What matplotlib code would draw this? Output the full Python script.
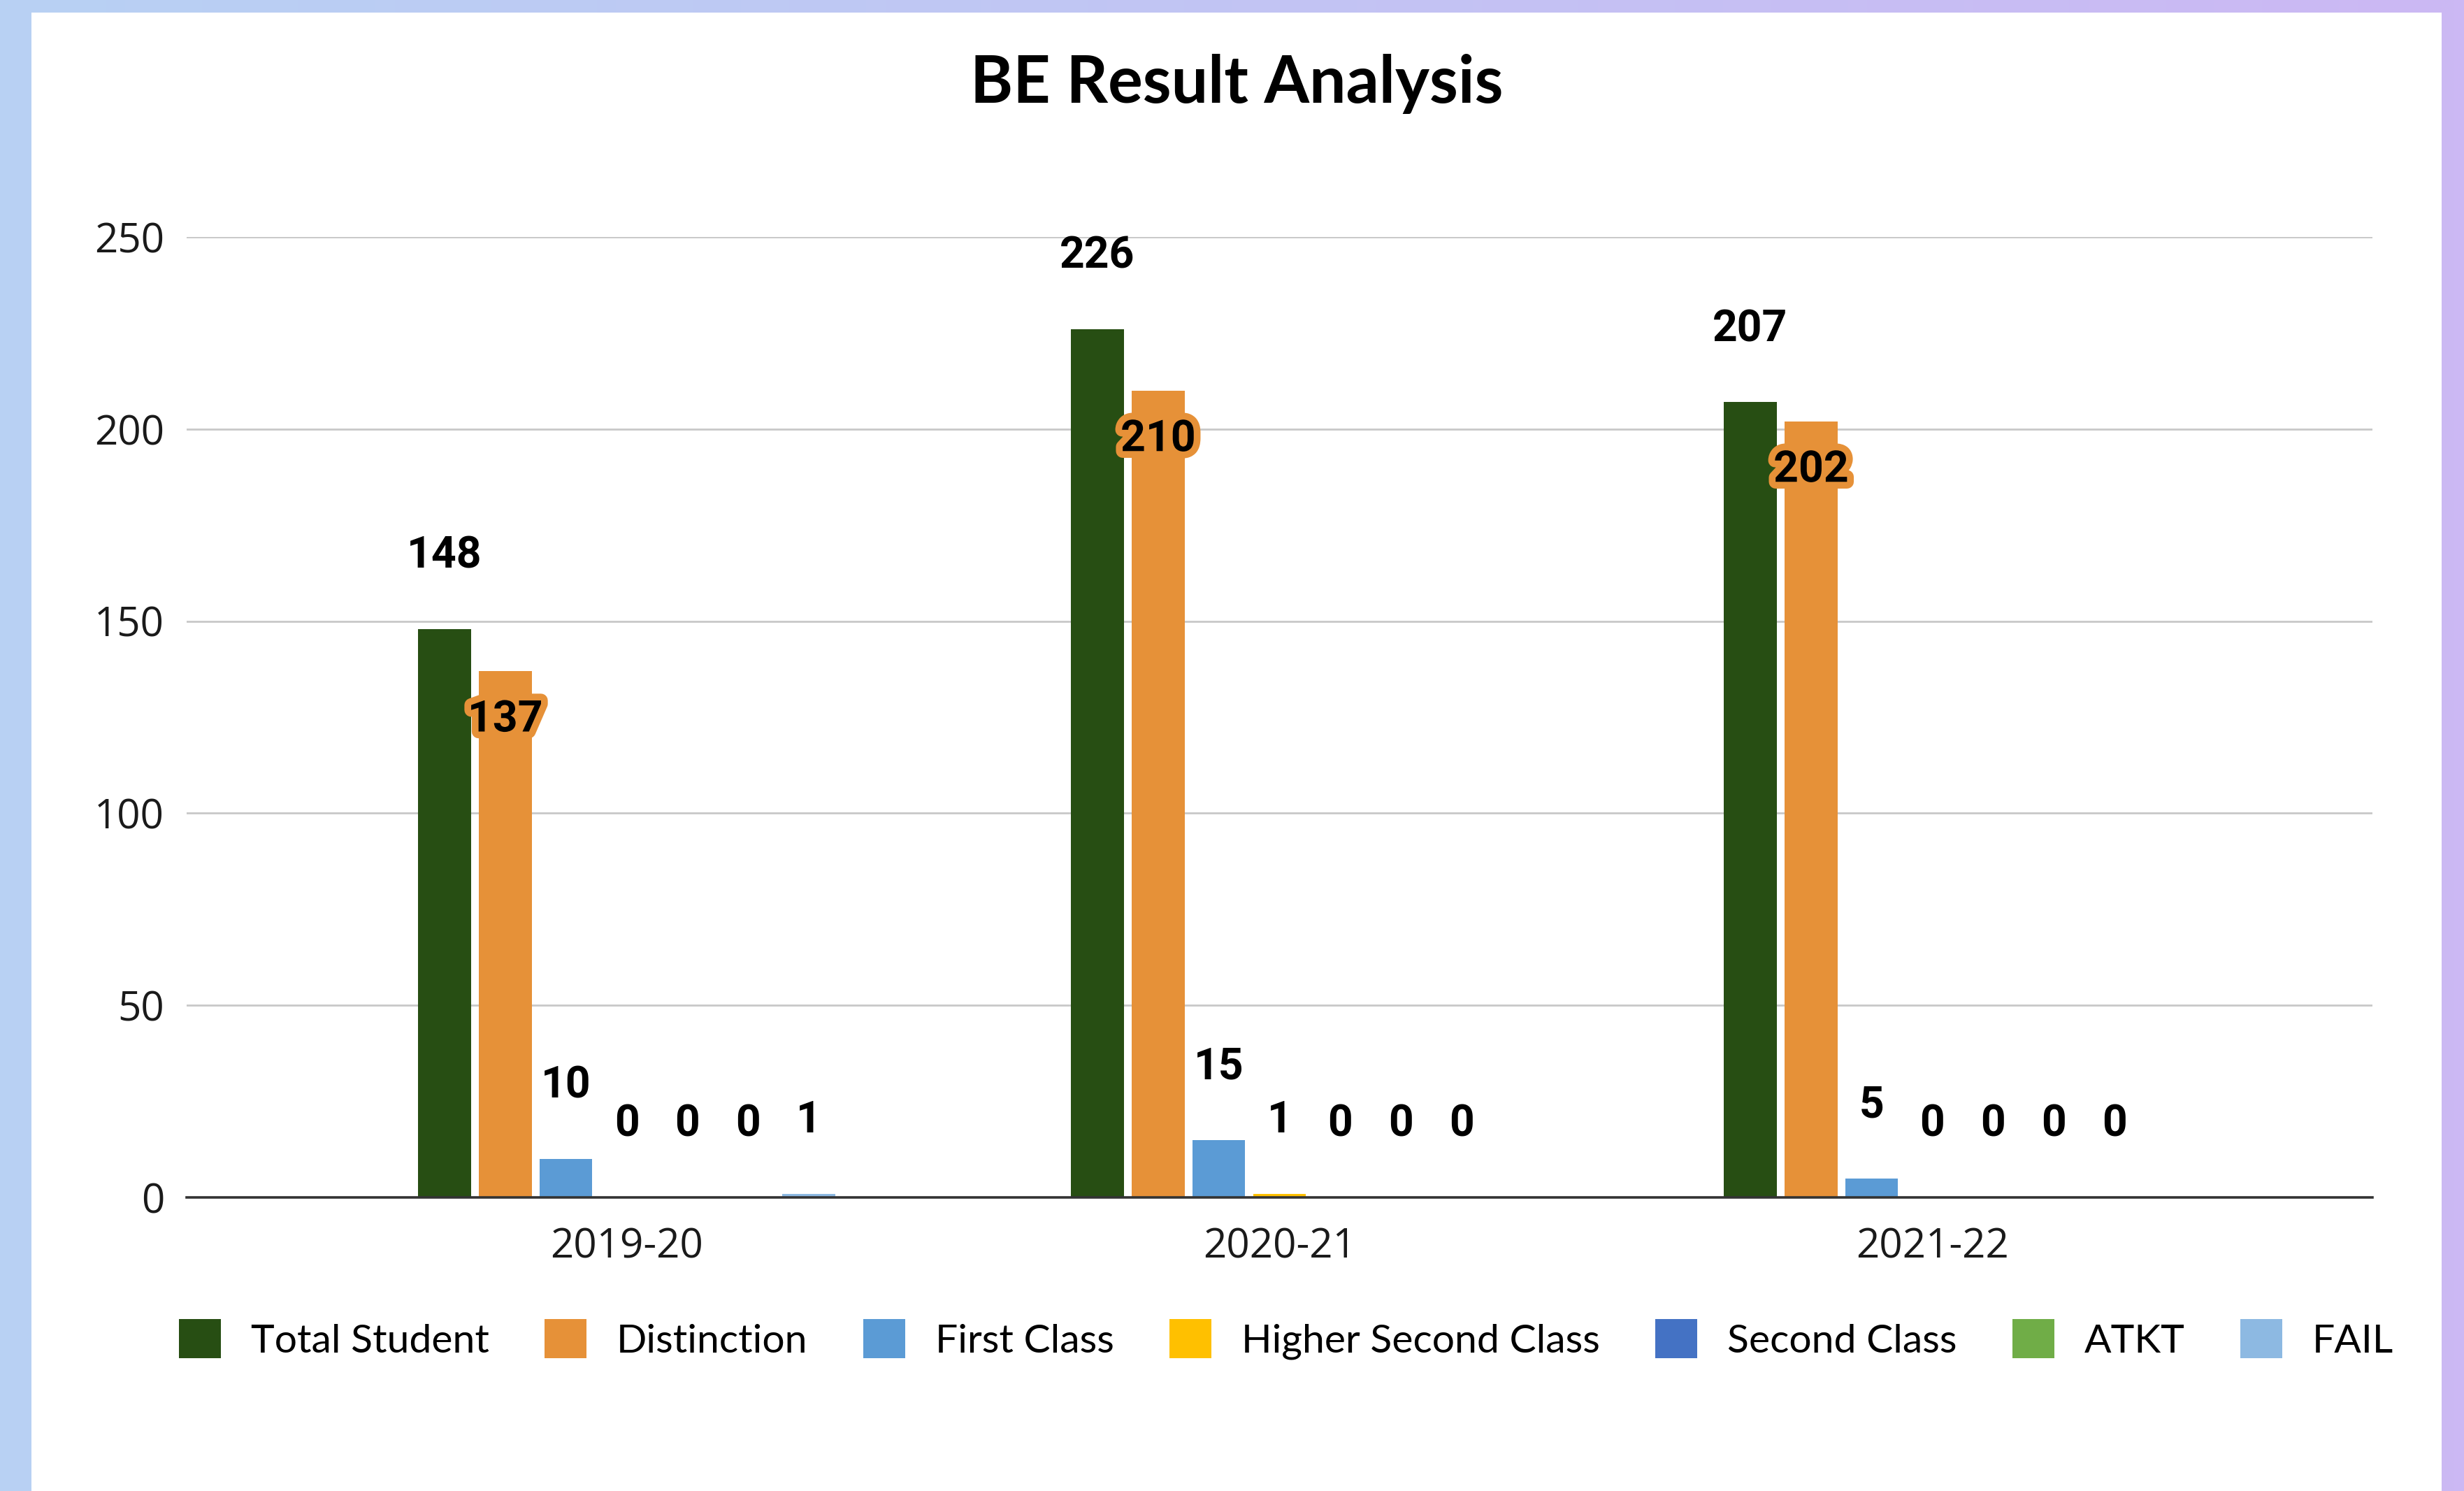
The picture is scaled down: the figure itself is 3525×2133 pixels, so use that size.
import numpy as np
import matplotlib
matplotlib.use('Agg')
import matplotlib.pyplot as plt
import matplotlib.patheffects as pe
from matplotlib.colors import LinearSegmentedColormap
from matplotlib.patches import Rectangle

# --- dados ---
years = ['2019-20', '2020-21', '2021-22']
series = ['Total Student', 'Distinction', 'First Class', 'Higher Second Class',
          'Second Class', 'ATKT', 'FAIL']
total_student = [148, 226, 207]
distinction = [137, 210, 202]
first_class = [10, 15, 5]
higher_second = [0, 1, 0]
second_class = [0, 0, 0]
atkt = [0, 0, 0]
fail = [1, 0, 0]
colors = ['#274e13', '#e69138', '#5b9bd5', '#ffc000', '#4472c4', '#70ad47', '#8db9e2']
yticks = [0, 50, 100, 150, 200, 250]

data = [total_student, distinction, first_class, higher_second, second_class, atkt, fail]

W, H = 3525, 2133
fig = plt.figure(figsize=(W / 100, H / 100), dpi=100)

# fundo com gradiente + painel branco
bg = fig.add_axes([0, 0, 1, 1], zorder=-2)
grad = np.linspace(0, 1, 256).reshape(1, -1)
cmap_bg = LinearSegmentedColormap.from_list('bg', ['#b8d1f3', '#ccb8f4'])
bg.imshow(grad, aspect='auto', cmap=cmap_bg, extent=[0, 1, 0, 1])
bg.add_patch(Rectangle((45 / W, 0), (3493 - 45) / W, (H - 18) / H,
                       facecolor='white', edgecolor='none'))
bg.set_xlim(0, 1)
bg.set_ylim(0, 1)
bg.axis('off')

# eixo principal
ax = fig.add_axes([267 / W, 1 - 1713 / H, (3394 - 267) / W, (1713 - 339) / H])
ax.set_facecolor('none')

x = np.arange(len(years))
step = 0.093
width = 0.081
handles = []
for i, (name, vals, c) in enumerate(zip(series, data, colors)):
    pos = x + (i - 3) * step
    b = ax.bar(pos, vals, width, color=c, label=name, zorder=3)
    handles.append(b)
    for p, v in zip(pos, vals):
        if name == 'Distinction':
            # rotulo dentro da barra, com contorno laranja
            ax.annotate(str(v), (p, v), xytext=(0, -50), textcoords='offset points',
                        ha='center', va='center', fontsize=45, fontweight='bold',
                        family='Roboto', color='black', zorder=6,
                        path_effects=[pe.withStroke(linewidth=14, foreground=c)])
        else:
            ax.annotate(str(v), (p, v), xytext=(0, 75), textcoords='offset points',
                        ha='center', va='center', fontsize=45, fontweight='bold',
                        family='Roboto', color='black', zorder=6, annotation_clip=False)

ax.set_xlim(-0.674, 2.674)
ax.set_ylim(0, 250)
ax.set_yticks(yticks)
ax.set_xticks(x)
ax.set_xticklabels(years)
ax.yaxis.grid(True, color='#c8c8c8', linewidth=2.0, zorder=0)
ax.set_axisbelow(True)
for s in ['top', 'right', 'left']:
    ax.spines[s].set_visible(False)
ax.spines['bottom'].set_color('#333333')
ax.spines['bottom'].set_linewidth(2.6)
ax.spines['bottom'].set_zorder(5)
ax.tick_params(axis='both', length=0, labelsize=42, labelcolor='#1a1a1a')
ax.tick_params(axis='y', pad=23)
ax.tick_params(axis='x', pad=30)
for lbl in ax.get_xticklabels() + ax.get_yticklabels():
    lbl.set_family('Open Sans')

# titulo
fig.text(1769 / W, 1 - 147 / H, 'BE Result Analysis', ha='center', va='baseline',
         fontsize=67, fontweight='bold', family='Lato')

# legenda
fig.legend(handles=handles, labels=series, loc='center',
           bbox_to_anchor=(1840 / W, 1 - 1916 / H), ncol=7, frameon=False,
           prop={'family': 'Lato', 'size': 41}, handlelength=1.05, handleheight=1.15,
           handletextpad=0.75, columnspacing=1.4, borderpad=0)

fig.savefig('out.png', dpi=100)
